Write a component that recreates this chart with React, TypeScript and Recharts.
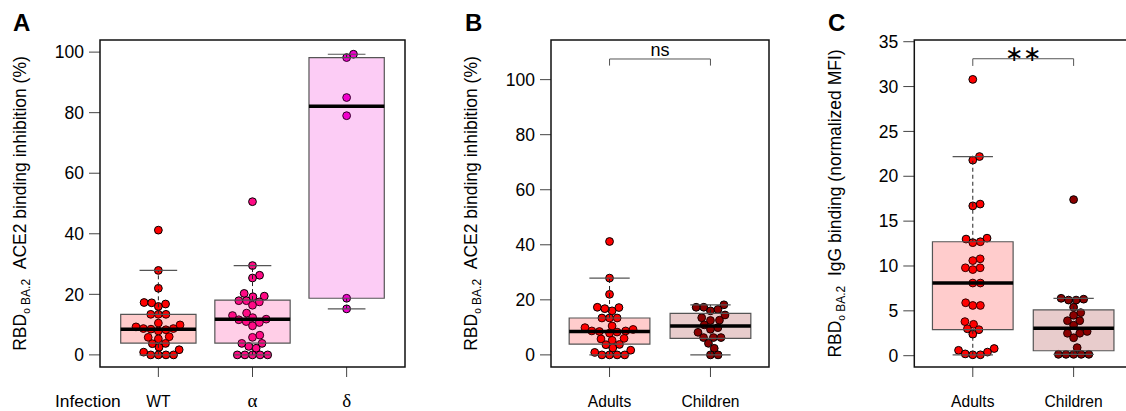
import { ScatterChart, Scatter, XAxis, YAxis, ReferenceArea, ReferenceLine } from "recharts";

const SANS = '"Liberation Sans", Arial, Helvetica, sans-serif';
const SERIF = '"Liberation Serif", "DejaVu Serif", "Times New Roman", serif';

// A: ACE2 binding inhibition by infection
const infectionNames = ["WT", "α", "δ"];
const infectionColors = ["#FF0000", "#FF0A85", "#F200CC"];
const wtInhibition = [41.2, 27.9, 22.0, 17.3, 17.2, 16.8, 16.0, 13.4, 13.4, 13.4, 10.5, 9.9, 9.25, 8.7, 8.7, 8.5, 8.3, 7.9, 6.0, 5.8, 5.3, 3.8, 3.7, 2.5, 1.7, 0.9, 0, 0, 0, 0];
const alphaInhibition = [50.6, 29.5, 26.3, 25.4, 20.3, 19.4, 19.2, 17.9, 17.9, 17.5, 16.4, 13.8, 13.0, 12.3, 11.8, 11.6, 11.0, 10.7, 9.6, 6.5, 5.8, 3.8, 3.8, 2.8, 2.2, 0, 0, 0, 0, 0];
const deltaInhibition = [99.3, 98.2, 85.0, 79.0, 18.7, 15.2];
const infectionQ1 = [3.9, 3.9, 18.7];
const infectionMedian = [8.5, 11.8, 82.1];
const infectionQ3 = [13.4, 18.1, 98.2];
const infectionLow = [0, 0, 15.2];
const infectionHigh = [27.9, 29.5, 99.3];

// B: ACE2 binding inhibition, adults vs children
const cohortNames = ["Adults", "Children"];
const cohortColors = ["#FF0000", "#8B0000"];
const adultsInhibition = wtInhibition;
const childrenInhibition = [18.2, 17.3, 17.3, 16.5, 16.0, 14.5, 13.5, 12.6, 12.5, 10.9, 9.9, 9.3, 8.2, 6.3, 6.3, 6.3, 4.2, 2.4, 0, 0];
const inhibitionQ1 = [3.9, 6.0];
const inhibitionMedian = [8.5, 10.5];
const inhibitionQ3 = [13.4, 15.1];
const inhibitionLow = [0, 0];
const inhibitionHigh = [27.9, 18.2];

// C: IgG binding (normalized MFI), adults vs children
const adultsIgG = [30.8, 22.2, 21.8, 16.9, 16.7, 13.1, 13.0, 12.7, 12.6, 10.8, 10.6, 9.8, 9.8, 9.6, 8.1, 8.1, 5.9, 5.6, 5.6, 3.8, 3.5, 3.0, 2.9, 2.4, 0.8, 0.6, 0.4, 0.2, 0.1, 0.1];
const childrenIgG = [17.4, 6.4, 6.3, 6.2, 6.2, 5.4, 4.8, 4.5, 3.9, 3.9, 3.4, 2.7, 2.5, 2.5, 2.0, 0.9, 0.15, 0.15, 0.15, 0.15, 0.15];
const iggQ1 = [2.9, 0.55];
const iggMedian = [8.1, 3.05];
const iggQ3 = [12.7, 5.1];
const iggLow = [0.1, 0.15];
const iggHigh = [22.2, 6.4];

const H = 411;
const PLOT_TOP = 40;
const PLOT_BOTTOM = 367;
const SWARM_GAP = 7.6;

type Group = { values: number[]; color: string; q1: number; median: number; q3: number; low: number; high: number };

const makeGroups = (vals: number[][], colors: string[], q1: number[], med: number[], q3: number[], lo: number[], hi: number[]): Group[] =>
  vals.map((v, i) => ({ values: v, color: colors[i], q1: q1[i], median: med[i], q3: q3[i], low: lo[i], high: hi[i] }));

// beeswarm-style layout: ascending order, closest free spot to the centre
function swarmOffsets(values: number[], pxPerY: number, pxPerX: number): number[] {
  const order = values.map((_, i) => i).sort((a, b) => values[a] - values[b]);
  const placed: { x: number; y: number }[] = [];
  const out = new Array(values.length).fill(0);
  for (const i of order) {
    const y = values[i] * pxPerY;
    const cands = [0];
    for (const p of placed) {
      const dy = Math.abs(y - p.y);
      if (dy < SWARM_GAP) {
        const dx = Math.sqrt(SWARM_GAP * SWARM_GAP - dy * dy);
        cands.push(p.x + dx, p.x - dx);
      }
    }
    const ok = cands.filter((c) => placed.every((p) => Math.hypot(c - p.x, y - p.y) >= SWARM_GAP - 0.01));
    ok.sort((a, b) => Math.abs(a) - Math.abs(b));
    placed.push({ x: ok[0], y });
    out[i] = ok[0] / pxPerX;
  }
  return out;
}

const XTick = (props: any) => {
  const { x, y, payload, names } = props;
  const label = names[Math.round(payload.value) - 1];
  const greek = /[α-ω]/.test(label);
  return (
    <text x={x} y={y + 30} textAnchor="middle" fill="#000" style={{ fontFamily: greek ? SERIF : SANS }} fontSize={greek ? 19 : 15.6}>
      {label}
    </text>
  );
};

type PanelProps = {
  left: number;
  width: number;
  plotLeft: number;
  plotRight: number;
  xDomain: [number, number];
  yDomain: [number, number];
  yTicks: number[];
  names: string[];
  groups: Group[];
  bracket?: { y: number; tip: number; text: string; fontSize: number; offset: number };
};

function BoxSwarmPanel(p: PanelProps) {
  const pxX = (p.plotRight - p.plotLeft) / (p.xDomain[1] - p.xDomain[0]);
  const pxY = (PLOT_BOTTOM - PLOT_TOP) / (p.yDomain[1] - p.yDomain[0]);
  const series = p.groups.map((g, i) => {
    const off = swarmOffsets(g.values, pxY, pxX);
    return g.values.map((v, k) => ({ x: i + 1 + off[k], y: v }));
  });

  const boxes = p.groups.flatMap((g, i) => {
    const c = i + 1;
    return [
      <ReferenceLine key={`wu${i}`} zIndex={800} segment={[{ x: c, y: g.q3 }, { x: c, y: g.high }]} stroke="#222" strokeDasharray="4 3" />,
      <ReferenceLine key={`wl${i}`} zIndex={800} segment={[{ x: c, y: g.low }, { x: c, y: g.q1 }]} stroke="#222" strokeDasharray="4 3" />,
      <ReferenceLine key={`cu${i}`} zIndex={800} segment={[{ x: c - 0.2, y: g.high }, { x: c + 0.2, y: g.high }]} stroke="#555" strokeWidth={1.2} />,
      <ReferenceLine key={`cl${i}`} zIndex={800} segment={[{ x: c - 0.2, y: g.low }, { x: c + 0.2, y: g.low }]} stroke="#555" strokeWidth={1.2} />,
      <ReferenceArea key={`b${i}`} zIndex={800} x1={c - 0.4} x2={c + 0.4} y1={g.q1} y2={g.q3} fill={g.color} fillOpacity={0.2} stroke="#555" strokeWidth={1.2} />,
      <ReferenceLine key={`m${i}`} zIndex={800} segment={[{ x: c - 0.4, y: g.median }, { x: c + 0.4, y: g.median }]} stroke="#000" strokeWidth={3.5} />,
    ];
  });

  const b = p.bracket;
  return (
    <div style={{ position: "absolute", left: p.left, top: 0 }}>
      <ScatterChart width={p.width} height={H} margin={{ top: PLOT_TOP, right: p.width - p.plotRight, bottom: 0, left: 0 }}>
        <XAxis
          type="number"
          dataKey="x"
          domain={p.xDomain}
          allowDataOverflow
          ticks={p.names.map((_, i) => i + 1)}
          interval={0}
          height={H - PLOT_BOTTOM}
          tickSize={10}
          tickMargin={0}
          tickLine={{ stroke: "#444" }}
          axisLine={false}
          tick={(t: any) => <XTick {...t} names={p.names} />}
        />
        <YAxis
          type="number"
          dataKey="y"
          domain={p.yDomain}
          allowDataOverflow
          ticks={p.yTicks}
          interval={0}
          width={p.plotLeft}
          tickSize={11}
          tickMargin={5}
          tickLine={{ stroke: "#444" }}
          axisLine={false}
          tick={{ fontSize: 17.5, fill: "#000", fontFamily: SANS }}
        />
        {series.map((d, i) => (
          <Scatter
            key={`s${i}`}
            data={d}
            isAnimationActive={false}
            shape={(s: any) => <circle cx={s.cx} cy={s.cy} r={3.9} fill={p.groups[i].color} stroke="#000" strokeWidth={1} />}
          />
        ))}
        {boxes}
        {b && (
          <ReferenceLine
            zIndex={800}
            segment={[{ x: 1, y: b.y }, { x: 2, y: b.y }]}
            stroke="#555"
            label={{ value: b.text, position: "top", fontSize: b.fontSize, fill: "#000", offset: b.offset, fontFamily: SANS }}
          />
        )}
        {b && <ReferenceLine zIndex={800} segment={[{ x: 1, y: b.tip }, { x: 1, y: b.y }]} stroke="#555" />}
        {b && <ReferenceLine zIndex={800} segment={[{ x: 2, y: b.tip }, { x: 2, y: b.y }]} stroke="#555" />}
        <ReferenceArea
          zIndex={900}
          x1={p.xDomain[0]}
          x2={p.xDomain[1]}
          y1={p.yDomain[0]}
          y2={p.yDomain[1]}
          fill="none"
          stroke="#111"
          strokeWidth={1.5}
        />
      </ScatterChart>
    </div>
  );
}

const YTitle = ({ bx, main }: { bx: number; main: string }) => (
  <text transform={`translate(${bx}, ${(PLOT_TOP + PLOT_BOTTOM) / 2}) rotate(-90)`} textAnchor="middle" fontFamily={SANS} fontSize={17.5} fill="#000">
    RBD
    <tspan fontSize={10} dy={4}>ο</tspan>
    <tspan fontSize={12}>{"\u00a0BA.2"}</tspan>
    <tspan dy={-4}>{"\u00a0\u00a0" + main}</tspan>
  </text>
);

export default function App() {
  const groupsA = makeGroups([wtInhibition, alphaInhibition, deltaInhibition], infectionColors, infectionQ1, infectionMedian, infectionQ3, infectionLow, infectionHigh);
  const groupsB = makeGroups([adultsInhibition, childrenInhibition], cohortColors, inhibitionQ1, inhibitionMedian, inhibitionQ3, inhibitionLow, inhibitionHigh);
  const groupsC = makeGroups([adultsIgG, childrenIgG], cohortColors, iggQ1, iggMedian, iggQ3, iggLow, iggHigh);

  return (
    <div style={{ position: "absolute", left: 0, top: 0, width: 1126, height: H, overflow: "hidden", background: "#fff", fontFamily: SANS }}>
      <BoxSwarmPanel
        left={0}
        width={420}
        plotLeft={100}
        plotRight={405}
        xDomain={[0.38, 3.62]}
        yDomain={[-4, 104]}
        yTicks={[0, 20, 40, 60, 80, 100]}
        names={infectionNames}
        groups={groupsA}
      />
      <BoxSwarmPanel
        left={440}
        width={340}
        plotLeft={111}
        plotRight={329}
        xDomain={[0.42, 2.58]}
        yDomain={[-4.4, 114.4]}
        yTicks={[0, 20, 40, 60, 80, 100]}
        names={cohortNames}
        groups={groupsB}
        bracket={{ y: 107.5, tip: 105.1, text: "ns", fontSize: 18, offset: 3 }}
      />
      <BoxSwarmPanel
        left={780}
        width={362}
        plotLeft={134.3}
        plotRight={352.1}
        xDomain={[0.42, 2.58]}
        yDomain={[-1.26, 35.19]}
        yTicks={[0, 5, 10, 15, 20, 25, 30, 35]}
        names={cohortNames}
        groups={groupsC}
        bracket={{ y: 33.1, tip: 32.3, text: "∗∗", fontSize: 22, offset: -2 }}
      />
      <svg width={1126} height={H} style={{ position: "absolute", left: 0, top: 0, pointerEvents: "none" }}>
        <g fontFamily={SANS} fontWeight="bold" fontSize={24} fill="#000">
          <text x={13} y={31}>A</text>
          <text x={465} y={31}>B</text>
          <text x={828} y={31}>C</text>
        </g>
        <YTitle bx={25.5} main="ACE2 binding inhibition (%)" />
        <YTitle bx={476.5} main="ACE2 binding inhibition (%)" />
        <YTitle bx={840.8} main="IgG binding (normalized MFI)" />
        <text x={55} y={407} fontFamily={SANS} fontSize={17.4} fill="#000">Infection</text>
      </svg>
    </div>
  );
}
